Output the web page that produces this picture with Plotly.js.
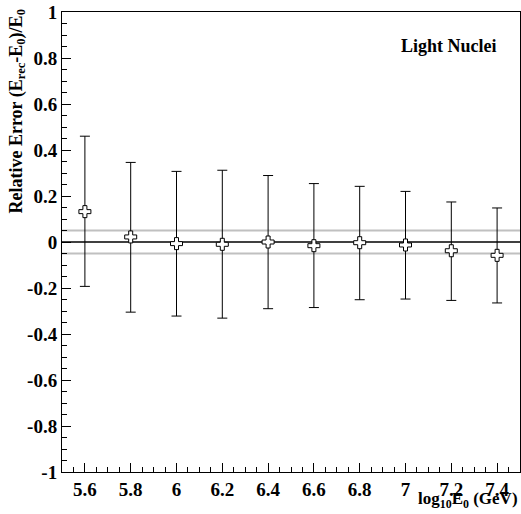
<!DOCTYPE html>
<html>
<head>
<meta charset="utf-8">
<script src="https://cdn.plot.ly/plotly-3.0.1.min.js"></script>
<style>
  html, body { margin: 0; padding: 0; background: #fff; }
  #chart { width: 521px; height: 514px; }
</style>
</head>
<body>
<div id="chart"></div>
<script>
// Energy bins (log10 of true energy, GeV)
const logE = [5.6, 5.8, 6.0, 6.2, 6.4, 6.6, 6.8, 7.0, 7.2, 7.4];
// Mean relative error of the reconstructed energy
const meanErr = [0.132, 0.022, -0.007, -0.010, 0.000, -0.016, -0.003, -0.013, -0.038, -0.058];
// Upper and lower ends of the spread in each bin
const upperEnd = [0.460, 0.346, 0.307, 0.312, 0.289, 0.254, 0.242, 0.220, 0.174, 0.148];
const lowerEnd = [-0.193, -0.305, -0.322, -0.331, -0.290, -0.285, -0.251, -0.248, -0.254, -0.265];
// Tolerance band around zero
const bandHalfWidth = 0.05;

// Axis tick positions and their labels
const xTickVals = [5.6, 5.8, 6.0, 6.2, 6.4, 6.6, 6.8, 7.0, 7.2, 7.4];
const xTickText = ['5.6', '5.8', '6', '6.2', '6.4', '6.6', '6.8', '7', '7.2', '7.4'];
const yTickVals = [-1, -0.8, -0.6, -0.4, -0.2, 0, 0.2, 0.4, 0.6, 0.8, 1];
const yTickText = ['-1', '-0.8', '-0.6', '-0.4', '-0.2', '0', '0.2', '0.4', '0.6', '0.8', '1'];

const errPlus = upperEnd.map((u, i) => u - meanErr[i]);
const errMinus = meanErr.map((m, i) => m - lowerEnd[i]);

const serif = "'Liberation Serif', 'Times New Roman', Times, serif";

const trace = {
  x: logE,
  y: meanErr,
  type: 'scatter',
  mode: 'markers',
  marker: { symbol: 'cross', size: 10, color: '#ffffff', line: { color: '#000000', width: 1 } },
  error_y: {
    type: 'data', symmetric: false,
    array: errPlus, arrayminus: errMinus,
    color: '#000000', thickness: 1, width: 5
  },
  showlegend: false,
  hoverinfo: 'skip'
};

const hline = (y, color, width) => ({
  type: 'line', xref: 'paper', x0: 0, x1: 1, yref: 'y', y0: y, y1: y,
  line: { color: color, width: width }, layer: 'below'
});

const layout = {
  width: 521, height: 514,
  margin: { l: 62, r: 1, t: 12, b: 42, pad: 0 },
  paper_bgcolor: '#ffffff', plot_bgcolor: '#ffffff',
  font: { family: serif, color: '#000000' },
  xaxis: {
    range: [5.5, 7.5], tickmode: 'array', tickvals: xTickVals, ticktext: xTickText,
    ticks: 'inside', ticklen: 9, tickwidth: 1, tickcolor: '#000',
    minor: { dtick: 0.05, tick0: 5.5, ticks: 'inside', ticklen: 5, tickwidth: 1, tickcolor: '#000' },
    showgrid: false, zeroline: false,
    showline: true, linecolor: '#000', linewidth: 1, mirror: true,
    tickfont: { family: serif, size: 19, color: '#000', weight: 'bold' },
    fixedrange: true
  },
  yaxis: {
    range: [-1, 1], tickmode: 'array', tickvals: yTickVals, ticktext: yTickText,
    ticks: 'inside', ticklen: 9, tickwidth: 1, tickcolor: '#000',
    minor: { dtick: 0.05, tick0: 0, ticks: 'inside', ticklen: 5, tickwidth: 1, tickcolor: '#000' },
    showgrid: false, zeroline: false,
    showline: true, linecolor: '#000', linewidth: 1, mirror: true,
    tickfont: { family: serif, size: 19, color: '#000', weight: 'bold' },
    fixedrange: true
  },
  shapes: [
    hline(bandHalfWidth, '#c0c0c0', 2),
    hline(-bandHalfWidth, '#c0c0c0', 2),
    hline(0, '#000000', 1.5)
  ],
  annotations: [
    {
      text: '<b>Light Nuclei</b>', xref: 'paper', yref: 'paper',
      x: 0.954, y: 0.925, xanchor: 'right', yanchor: 'middle', showarrow: false,
      font: { family: serif, size: 18, color: '#000' }
    },
    {
      text: '<b>log<sub>10</sub>E<sub>0</sub> (GeV)</b>', xref: 'paper', yref: 'paper',
      x: 1.0, y: -0.0885, xanchor: 'right', yanchor: 'bottom', showarrow: false,
      font: { family: serif, size: 17, color: '#000' }
    },
    {
      text: '<b>Relative Error (E<sub>rec</sub>-E<sub>0</sub>)/E<sub>0</sub></b>',
      xref: 'paper', yref: 'paper', textangle: -90,
      x: -0.098, y: 1.01, xanchor: 'center', yanchor: 'top', showarrow: false,
      font: { family: serif, size: 18, color: '#000' }
    }
  ]
};

Plotly.newPlot('chart', [trace], layout, { displayModeBar: false, staticPlot: true });
</script>
</body>
</html>
